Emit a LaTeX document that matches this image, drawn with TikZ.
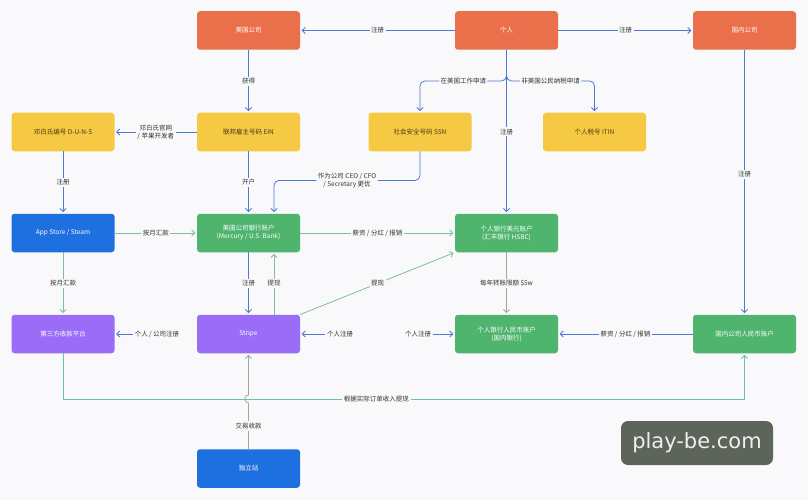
\documentclass[tikz,border=0pt]{standalone}
\usepackage{fontspec}
\setmainfont{Noto Sans CJK SC}
\newfontfamily\wmfont{DejaVu Sans}
\usetikzlibrary{arrows.meta,calc}
\definecolor{bg}{HTML}{F9F9FB}
\definecolor{cor}{HTML}{E9704A}
\definecolor{yel}{HTML}{F6C944}
\definecolor{blu}{HTML}{1E6FE0}
\definecolor{grn}{HTML}{4FB46E}
\definecolor{pur}{HTML}{9B6CF7}
\definecolor{lblue}{HTML}{4A7BD0}
\definecolor{lgreen}{HTML}{7DBF9A}
\definecolor{lgray}{HTML}{9AAAA2}
\definecolor{lteal}{HTML}{6CC0A8}
\definecolor{txt}{HTML}{333333}
\definecolor{ytxt}{HTML}{4A3A1A}
\definecolor{wm}{HTML}{5D6459}
\begin{document}
\begin{tikzpicture}[x=1pt,y=-1pt,
  font=\fontsize{6.5}{8}\selectfont,
  box/.style={rounded corners=3pt, minimum width=103pt, minimum height=38.5pt, inner sep=0pt, align=center, text=white},
  orange/.style={box, fill=cor},
  yellow/.style={box, fill=yel, text=ytxt},
  bluebox/.style={box, fill=blu},
  greenbox/.style={box, fill=grn},
  purplebox/.style={box, fill=pur},
  lbl/.style={fill=bg, inner sep=1.5pt, text=txt, align=center},
  conn/.style={line width=0.8pt, -{Straight Barb[length=3pt,width=6pt]}, shorten >=1.5pt},
  bl/.style={conn, draw=lblue},
  gr/.style={conn, draw=lgreen},
  gy/.style={conn, draw=lgray},
  tl/.style={conn, draw=lteal}]
\fill[bg] (0,0) rectangle (808,500);
\useasboundingbox (0,0) rectangle (808,500);

% nodes
\node[orange] (usco) at (248.5,30.5) {美国公司};
\node[orange] (person) at (506.5,30.5) {个人};
\node[orange] (dmco) at (744.5,30.5) {国内公司};
\node[yellow] (duns) at (63,132) {邓白氏编号 D-U-N-S};
\node[yellow] (ein) at (248.5,132) {联邦雇主号码 EIN};
\node[yellow] (ssn) at (420,132) {社会安全号码 SSN};
\node[yellow] (itin) at (594.5,132) {个人税号 ITIN};
\node[bluebox] (app) at (63,233) {App Store / Steam};
\node[greenbox] (bank) at (248.5,233) {美国公司银行账户\\(Mercury / U.S. Bank)};
\node[greenbox] (hsbc) at (506.5,233) {个人银行美元账户\\(汇丰银行 HSBC)};
\node[purplebox] (third) at (63,334) {第三方收款平台};
\node[purplebox] (stripe) at (248.5,334) {Stripe};
\node[greenbox] (rmb) at (506.5,334) {个人银行人民币账户\\(国内银行)};
\node[greenbox] (dmrmb) at (744.5,334) {国内公司人民币账户};
\node[bluebox] (site) at (248.5,468.5) {独立站};

% top row
\draw[bl] (person) -- node[lbl]{注册} (usco);
\draw[bl] (person) -- node[lbl]{注册} (dmco);
\draw[bl] (usco) -- node[lbl]{获得} (ein);
\draw[bl] (ein) -- node[lbl]{邓白氏官网\\/ 苹果开发者} (duns);
\draw[bl, rounded corners=5pt] (person.south) -- ++(0,31) -| node[lbl,pos=.25]{在美国工作申请} (ssn.north);
\draw[bl, rounded corners=5pt] (person.south) -- ++(0,31) -| node[lbl,pos=.25]{非美国公民纳税申请} (itin.north);
\draw[bl] (person) -- node[lbl]{注册} (hsbc);
\draw[bl] (ein) -- node[lbl]{开户} (bank);
\draw[bl, rounded corners=5pt] (ssn.south) -- ++(0,29) -| node[lbl,pos=.25]{作为公司 CEO / CFO\\/ Secretary 更优} ([xshift=25.5pt]bank.north);
\draw[bl] (duns) -- node[lbl]{注册} (app);
\draw[bl] (dmco) -- node[lbl,pos=.47]{注册} (dmrmb);

% money flows
\draw[gr] (app) -- node[lbl]{按月汇款} (bank);
\draw[gr] (app) -- node[lbl]{按月汇款} (third);
\draw[gr] (bank) -- node[lbl]{薪资 / 分红 / 报销} (hsbc);
\draw[bl] (bank) -- node[lbl]{注册} (stripe);
\draw[gr] ([xshift=25.5pt]stripe.north) -- node[lbl]{提现} ([xshift=25.5pt]bank.south);
\draw[gr] (stripe.north east) -- node[lbl]{提现} (hsbc.south west);
\draw[gy] (hsbc) -- node[lbl]{每年转账限额 \$5w} (rmb);
\draw[bl] (dmrmb) -- node[lbl]{薪资 / 分红 / 报销} (rmb);

% registration labels
\node[lbl] (r1) at (157,334) {个人 / 公司注册};
\draw[bl] (r1) -- (third);
\node[lbl] (r2) at (340,334) {个人注册};
\draw[bl] (r2) -- (stripe);
\node[lbl] (r3) at (418,334) {个人注册};
\draw[bl] (r3) -- (rmb);

% bottom
\coordinate (hy) at (0,399);
\draw[tl] (third.south) -- (third.south |- hy) -- node[lbl,pos=.46]{根据实际订单收入提现} (dmrmb.south |- hy) -- (dmrmb.south);
\draw[gy] (site.north) -- node[lbl]{交易收款} (248.5,403) .. controls (243.5,403) and (243.5,395) .. (248.5,395) -- (stripe.south);

% watermark
\node[fill=wm, rounded corners=7pt, minimum width=152pt, minimum height=44pt, inner sep=0pt, text=white!94!black, font=\wmfont\fontsize{21}{24}\selectfont] (wmk) at (697,443) {play-be.com};
\end{tikzpicture}
\end{document}
